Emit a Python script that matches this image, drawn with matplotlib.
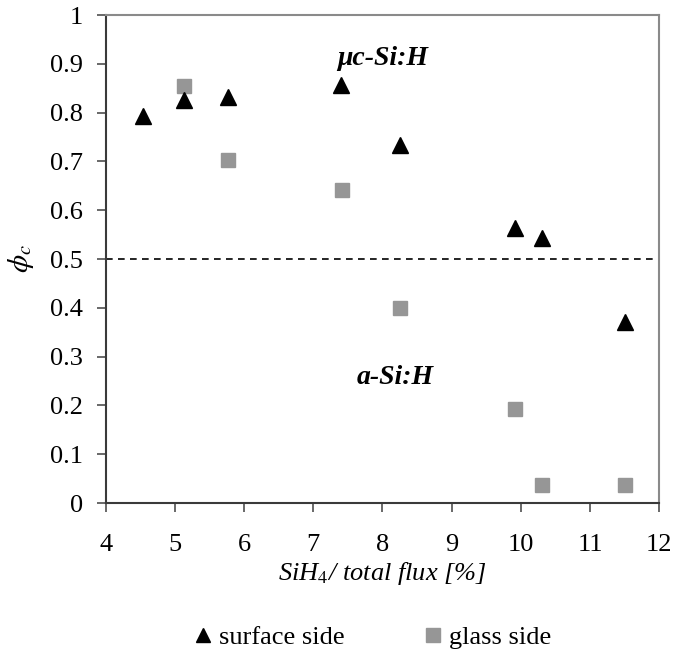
import matplotlib
matplotlib.use("Agg")
import matplotlib.pyplot as plt
from matplotlib.lines import Line2D

plt.rcParams['font.family'] = ['Liberation Serif', 'DejaVu Serif']
plt.rcParams['mathtext.fontset'] = 'stix'

# SiH4 fraction of total flux [%] and crystalline fraction
surface_x = [4.54, 5.13, 5.76, 7.40, 8.26, 9.91, 10.31, 11.51]
surface_phi = [0.793, 0.826, 0.832, 0.856, 0.734, 0.564, 0.543, 0.371]
glass_x = [5.13, 5.77, 7.41, 8.26, 9.91, 10.31, 11.51]
glass_phi = [0.854, 0.703, 0.641, 0.399, 0.193, 0.037, 0.037]

x_ticks = [4, 5, 6, 7, 8, 9, 10, 11, 12]
y_ticks = [0, 0.1, 0.2, 0.3, 0.4, 0.5, 0.6, 0.7, 0.8, 0.9, 1]
y_tick_labels = ['0', '0.1', '0.2', '0.3', '0.4', '0.5', '0.6', '0.7', '0.8', '0.9', '1']

grey = '#969696'

fig = plt.figure(figsize=(6.74, 6.53), dpi=100)
ax = fig.add_axes([0.157, 0.2297, 0.821, 0.7473])

ax.axhline(0.5, color='black', lw=1.2, ls=(0, (4, 3.2)), zorder=1)
ax.plot(surface_x, surface_phi, ls='none', marker='^', ms=11, color='black', zorder=3)
ax.plot(glass_x, glass_phi, ls='none', marker='s', ms=10.5, color=grey, zorder=2)

ax.set_xlim(4, 12)
ax.set_ylim(0, 1)
ax.set_xticks(x_ticks)
ax.set_yticks(y_ticks)
ax.set_yticklabels(y_tick_labels)
ax.tick_params(direction='out', length=6.5, width=1.1, color='#404040',
               labelsize=19)
ax.tick_params(axis='y', pad=10)
ax.tick_params(axis='x', pad=16)

for side in ['left', 'bottom']:
    ax.spines[side].set_color('#3a3a3a')
    ax.spines[side].set_linewidth(1.5)
for side in ['top', 'right']:
    ax.spines[side].set_color('#8a8a8a')
    ax.spines[side].set_linewidth(1.5)

ax.text(7.34, 0.91, 'μc-Si:H', fontsize=20, fontweight='bold', fontstyle='italic',
        va='center', ha='left')
ax.text(7.63, 0.258, 'a-Si:H', fontsize=20, fontweight='bold', fontstyle='italic',
        va='center', ha='left')

ax.set_xlabel(r'SiH$_{\mathit{4}}$/ total flux [%]', fontsize=19, fontstyle='italic',
              labelpad=3)
ax.set_ylabel(r'$\phi_c$', fontsize=21, labelpad=10)

handles = [
    Line2D([], [], ls='none', marker='^', ms=10, color='black', label='surface side'),
    Line2D([], [], ls='none', marker='s', ms=10, color=grey, label='glass side'),
]
fig.legend(handles=handles, loc='center', bbox_to_anchor=(0.553, 0.024), ncol=2,
           frameon=False, fontsize=19, handlelength=0.7, handletextpad=0.25,
           columnspacing=3.0)

fig.savefig('out.png', dpi=100)
